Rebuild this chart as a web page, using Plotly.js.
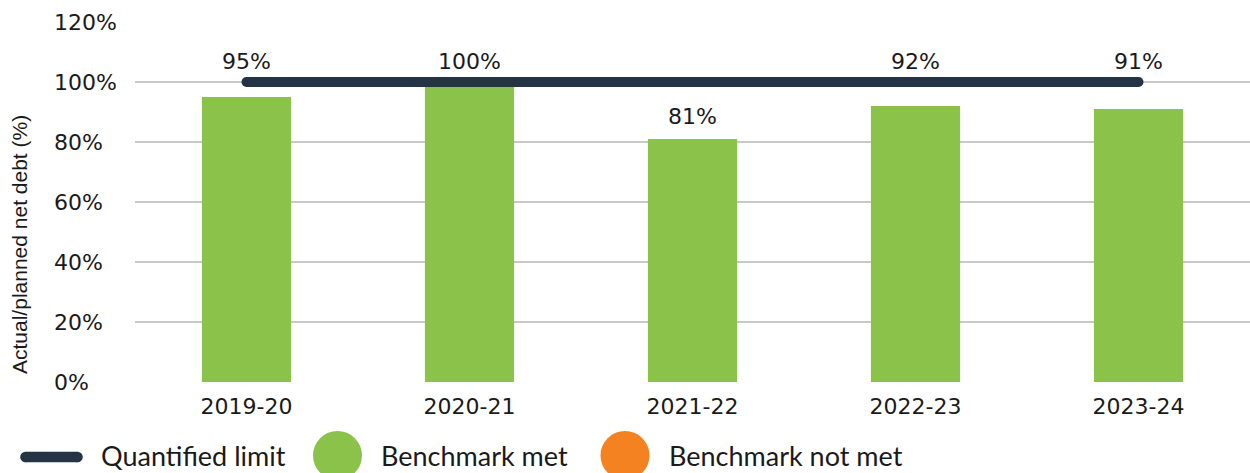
<!DOCTYPE html>
<html>
<head>
<meta charset="utf-8">
<script src="https://cdn.plot.ly/plotly-3.0.1.min.js"></script>
<style>
  html, body { margin: 0; padding: 0; background: #ffffff; }
  #chart { width: 1250px; height: 473px; }
  /* round ends on the limit line */
  #chart .scatterlayer .js-line { stroke-linecap: round; }
</style>
</head>
<body>
<div id="chart"></div>
<script>
// Net debt: actual as a share of planned, by financial year
const years = ['2019-20', '2020-21', '2021-22', '2022-23', '2023-24'];
const actualToPlanned = [95, 100, 81, 92, 91];
const quantifiedLimit = [100, 100, 100, 100, 100];
const yTicks = [0, 20, 40, 60, 80, 100, 120];
const yTickLabels = ['0%', '20%', '40%', '60%', '80%', '100%', '120%'];
const legendNames = ['Quantified limit', 'Benchmark met', 'Benchmark not met'];

const GREEN = '#8BC34A';
const ORANGE = '#F58220';
const NAVY = '#243445';
const GRID = '#C9C9C9';
const TEXT = '#1a1a1a';
const NUM_FONT = 'DejaVu Sans, sans-serif';
const LEGEND_FONT = 'Lato, sans-serif';

const M = { l: 135, r: 0, t: 22, b: 91 };
const PLOT_H = 473 - M.t - M.b;

const bars = {
  type: 'bar',
  x: years,
  y: actualToPlanned,
  marker: { color: GREEN },
  hoverinfo: 'skip',
  showlegend: false
};

const limitLine = {
  type: 'scatter',
  mode: 'lines',
  x: years,
  y: quantifiedLimit,
  line: { color: NAVY, width: 10 },
  hoverinfo: 'skip',
  showlegend: false
};

const annotations = [];

// value labels: sit above the bar, or above the limit line when the bar is close to it
actualToPlanned.forEach((v, i) => {
  const lim = quantifiedLimit[i];
  const anchorY = (lim - v) < 15 ? lim : v;
  annotations.push({
    x: years[i], y: anchorY, xref: 'x', yref: 'y',
    text: v + '%', showarrow: false,
    yanchor: 'bottom', yshift: (anchorY === lim ? 6 : 8),
    font: { family: NUM_FONT, size: 22, color: TEXT }
  });
});

// left-aligned y tick labels
yTicks.forEach((t, i) => {
  annotations.push({
    x: 0, xref: 'paper', xshift: 52 - M.l, xanchor: 'left',
    y: t, yref: 'y', yanchor: 'middle',
    text: yTickLabels[i], showarrow: false,
    font: { family: NUM_FONT, size: 22, color: TEXT }
  });
});

// y axis title
annotations.push({
  x: 0, xref: 'paper', xshift: 19 - M.l,
  y: 0, yref: 'paper', yshift: (M.t + PLOT_H) - 245,
  yanchor: 'middle', xanchor: 'center',
  text: 'Actual/planned net debt (%)', textangle: -90, showarrow: false,
  font: { family: 'Liberation Sans, Arial, sans-serif', size: 21, color: TEXT }
});

// legend, placed in pixels relative to the bottom-left corner of the plot area
const px = (x) => x - M.l;            // shift from plot left edge
const py = (y) => (M.t + PLOT_H) - y;  // shift up from plot bottom edge

const legendTextX = [99, 379, 667];
legendNames.forEach((name, i) => {
  annotations.push({
    x: 0, xref: 'paper', xshift: px(legendTextX[i]), xanchor: 'left',
    y: 0, yref: 'paper', yshift: py(455), yanchor: 'middle',
    text: name, showarrow: false,
    font: { family: LEGEND_FONT, size: 27, color: TEXT }
  });
});

const pixelShape = (type, cx, cy, hw, hh, color) => ({
  type: type, xref: 'paper', yref: 'paper',
  xsizemode: 'pixel', ysizemode: 'pixel',
  xanchor: 0, yanchor: 0,
  x0: px(cx) - hw, x1: px(cx) + hw,
  y0: py(cy) - hh, y1: py(cy) + hh,
  fillcolor: color, line: { width: 0 }, layer: 'above'
});

const shapes = [
  // line key with rounded ends
  pixelShape('rect', 51.5, 457, 26, 5.3, NAVY),
  pixelShape('circle', 25.5, 457, 5.3, 5.3, NAVY),
  pixelShape('circle', 77.5, 457, 5.3, 5.3, NAVY),
  // circle keys
  pixelShape('circle', 337.5, 455.5, 24.5, 24.5, GREEN),
  pixelShape('circle', 625, 455.5, 24.5, 24.5, ORANGE)
];

const layout = {
  width: 1250,
  height: 473,
  margin: M,
  paper_bgcolor: '#ffffff',
  plot_bgcolor: '#ffffff',
  bargap: 0.6,
  showlegend: false,
  xaxis: {
    type: 'category',
    showgrid: false,
    zeroline: false,
    showline: false,
    ticks: '',
    tickfont: { family: NUM_FONT, size: 22, color: TEXT },
    ticklabelstandoff: 9
  },
  yaxis: {
    range: [0, 120],
    tickvals: yTicks,
    showticklabels: false,
    showgrid: true,
    gridcolor: GRID,
    gridwidth: 1.5,
    zeroline: false,
    showline: false,
    ticks: ''
  },
  annotations: annotations,
  shapes: shapes
};

Plotly.newPlot('chart', [bars, limitLine], layout, { displayModeBar: false, staticPlot: true });
</script>
</body>
</html>
